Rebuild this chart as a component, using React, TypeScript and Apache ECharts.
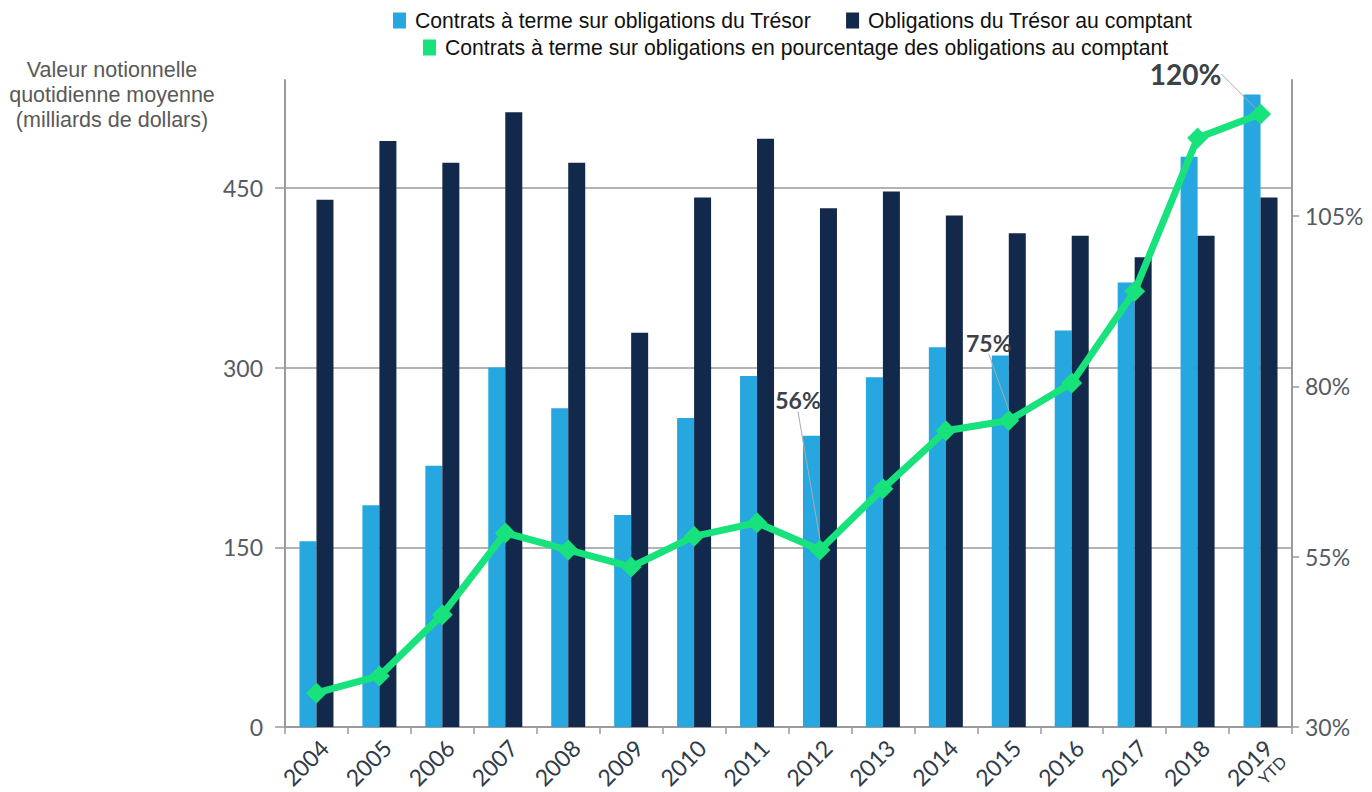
import React, { useEffect, useRef } from 'react';
import * as echarts from 'echarts';

const years = ['2004', '2005', '2006', '2007', '2008', '2009', '2010', '2011', '2012', '2013', '2014', '2015', '2016', '2017', '2018', '2019'];
const futures = [155, 185, 218, 300, 266, 177, 258, 293, 243, 292, 317, 310, 331, 371, 476, 528];
const cash = [440, 489, 471, 513, 471, 329, 442, 491, 433, 447, 427, 412, 410, 392, 410, 442];
const pct = [35, 37.5, 46.5, 58.5, 56, 53.5, 58, 60, 56, 65, 73.5, 75, 80.5, 94, 116.5, 120];
const leftTicks = [0, 150, 300, 450];
const rightTicks = [30, 55, 80, 105];
const annotated: Record<number, string> = { 8: '56%', 11: '75%', 15: '120%' };

const nameFut = 'Contrats à terme sur obligations du Trésor';
const nameCash = 'Obligations du Trésor au comptant';
const namePct = 'Contrats à terme sur obligations en pourcentage des obligations au comptant';

const BLUE = '#27a7df';
const NAVY = '#13294b';
const GREEN = '#17e27b';
const AXIS = '#9a9a9a';
const FONT = 'Lato, "Open Sans", sans-serif';
const ARIAL = '"Liberation Sans", Arial, sans-serif';

export default function App() {
  const ref = useRef<HTMLDivElement>(null);
  useEffect(() => {
    document.body.style.margin = '0';
    const chart = echarts.init(ref.current!, undefined, { renderer: 'svg' });
    const lineData = pct.map((v, i) => {
      if (annotated[i]) {
        return {
          value: v,
          label: {
            show: true,
            formatter: annotated[i],
            fontFamily: FONT,
            fontWeight: 'bold',
            fontSize: i === 15 ? 28 : 23,
            color: '#3d4148',
          },
        };
      }
      return v;
    });
    const legendText = { fontFamily: ARIAL, fontSize: 21.2, color: '#111', padding: [0, 0, 0, 4] };
    chart.setOption({
      animation: false,
      textStyle: { fontFamily: FONT },
      legend: [
        {
          left: 388,
          top: 5,
          itemWidth: 13,
          itemHeight: 16,
          itemGap: 35,
          icon: 'rect',
          data: [nameFut, nameCash],
          textStyle: legendText,
        },
        {
          left: 418,
          top: 32,
          itemWidth: 13,
          itemHeight: 16,
          icon: 'rect',
          data: [namePct],
          textStyle: legendText,
        },
      ],
      graphic: [
        {
          type: 'text',
          x: 112,
          y: 57,
          style: {
            text: 'Valeur notionnelle\nquotidienne moyenne\n(milliards de dollars)',
            fill: '#595959',
            font: '21.5px "Liberation Sans", Arial, sans-serif',
            lineHeight: 25,
            align: 'center',
            verticalAlign: 'top',
          },
        },
      ],
      grid: { left: 285, right: 80, top: 80, bottom: 65, containLabel: false, outerBoundsMode: 'none' },
      xAxis: {
        type: 'category',
        data: years,
        axisLine: { lineStyle: { color: AXIS, width: 2 } },
        axisTick: { show: true, length: 7, lineStyle: { color: AXIS, width: 1.5 } },
        axisLabel: {
          rotate: 45,
          fontSize: 23,
          color: '#2f3b4a',
          margin: 9,
          padding: [40, 0, 0, 0],
          interval: 0,
          showMinLabel: true,
          showMaxLabel: true,
          hideOverlap: false,
          formatter: (v: string) => `{y|${v}}\n{s|${v === '2019' ? 'YTD' : ' '}}`,
          rich: {
            y: { fontSize: 23, color: '#2f3b4a', lineHeight: 24, fontFamily: FONT },
            s: { fontSize: 16, color: '#2f3b4a', lineHeight: 18, fontFamily: FONT },
          },
        },
      },
      yAxis: [
        {
          type: 'value',
          min: 0,
          max: 540,
          position: 'left',
          axisLine: { show: true, lineStyle: { color: AXIS, width: 2 } },
          axisTick: { show: true, length: 10, customValues: leftTicks, lineStyle: { color: AXIS, width: 1.5 } },
          axisLabel: { customValues: leftTicks, fontSize: 23, color: '#555b63', margin: 22 },
          splitLine: { show: true, lineStyle: { color: AXIS, width: 1.5 } },
        },
        {
          type: 'value',
          min: 30,
          max: 125,
          position: 'right',
          axisLine: { show: true, lineStyle: { color: AXIS, width: 2 } },
          axisTick: { show: true, length: 7, customValues: rightTicks, lineStyle: { color: AXIS, width: 1.5 } },
          axisLabel: { customValues: rightTicks, fontSize: 23, color: '#555b63', margin: 13, formatter: '{value}%' },
          splitLine: { show: false },
        },
      ],
      series: [
        {
          name: nameFut,
          type: 'bar',
          data: futures,
          barWidth: 17,
          barGap: '0%',
          itemStyle: { color: BLUE },
        },
        {
          name: nameCash,
          type: 'bar',
          data: cash,
          barWidth: 17,
          barGap: '0%',
          itemStyle: { color: NAVY },
        },
        {
          name: namePct,
          type: 'line',
          yAxisIndex: 1,
          data: lineData,
          z: 10,
          symbol: 'diamond',
          symbolSize: 21,
          itemStyle: { color: GREEN },
          lineStyle: { color: GREEN, width: 7 },
          label: { show: false },
          labelLine: { show: true, lineStyle: { color: '#aaa', width: 1 } },
          labelLayout: (p: any) => {
            const r = p.rect;
            const cx = r.x + r.width / 2;
            const cy = r.y + r.height / 2;
            if (p.dataIndex === 8) {
              return { x: cx - 22, y: cy - 150, align: 'center', verticalAlign: 'middle', labelLinePoints: [[cx - 23, cy - 136], [cx - 12, cy - 70], [cx - 2, cy - 4]] };
            }
            if (p.dataIndex === 11) {
              return { x: cx - 20, y: cy - 78, align: 'center', verticalAlign: 'middle', labelLinePoints: [[cx - 17, cy - 58], [cx - 9, cy - 35], [cx - 2, cy - 12]] };
            }
            if (p.dataIndex === 15) {
              return { x: cx - 75, y: cy - 40, align: 'center', verticalAlign: 'middle', labelLinePoints: [[cx - 25, cy - 46], [cx - 14, cy - 28], [cx - 3, cy - 8]] };
            }
            return {};
          },
        },
      ],
    });
    return () => chart.dispose();
  }, []);
  return <div ref={ref} style={{ width: 1372, height: 792 }} />;
}
